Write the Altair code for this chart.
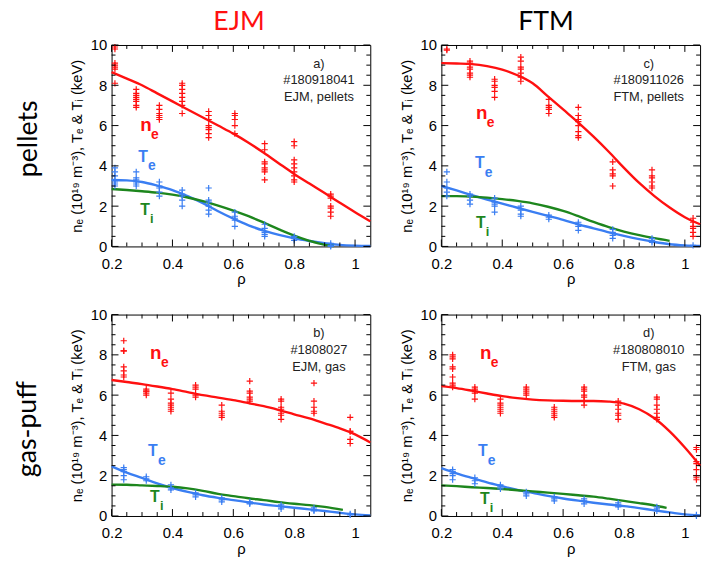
import altair as alt
import pandas as pd

# ---------------- data ----------------
FIT_RHO = [0.2, 0.25, 0.3, 0.35, 0.4, 0.45, 0.5, 0.55, 0.6, 0.65, 0.7, 0.75,
           0.8, 0.85, 0.9, 0.95, 1.0, 1.05]

# a) EJM, pellets
A_RHO = [0.211, 0.281, 0.357, 0.432, 0.519, 0.605, 0.703, 0.800, 0.920]
A_NE = [[9.9, 9.8, 9.1, 9.0, 8.9, 8.8, 8.1],
        [7.8, 7.6, 7.5, 7.4, 7.3, 7.2, 7.0, 6.9],
        [7.0, 6.8, 6.6, 6.5, 6.4, 6.3],
        [8.1, 8.0, 7.8, 7.6, 7.4, 7.2, 7.0, 6.6],
        [6.7, 6.5, 6.3, 6.0, 5.9, 5.8, 5.6, 5.4],
        [6.6, 6.5, 6.3, 6.0, 5.6],
        [5.1, 4.8, 4.2, 4.1, 3.9, 3.8, 3.7, 3.3],
        [5.2, 5.0, 4.3, 4.1, 3.9, 3.7, 3.5, 3.3, 3.2],
        [2.6, 2.5, 2.4, 2.0, 1.9, 1.7, 1.5]]
A_TE = [[3.9, 3.7, 3.5, 3.3, 3.2, 3.1, 3.0],
        [3.7, 3.4, 3.3, 3.2, 3.1, 3.0],
        [3.2, 3.0, 2.9, 2.7, 2.5],
        [2.8, 2.6, 2.5, 2.3, 2.0],
        [2.9, 2.3, 2.2, 2.0, 1.8, 1.6],
        [1.7, 1.5, 1.4, 1.3, 1.0],
        [1.1, 0.9, 0.7, 0.6, 0.5],
        [0.5, 0.4, 0.3],
        [0.15, 0.05, 0.0]]
A_NE_FIT = [8.65, 8.33, 8.0, 7.6, 7.2, 6.8, 6.4, 6.0, 5.6, 5.15, 4.65, 4.12,
            3.6, 3.12, 2.65, 2.17, 1.7, 1.25]
A_TE_FIT = [3.3, 3.28, 3.2, 3.02, 2.8, 2.5, 2.15, 1.75, 1.38, 1.05, 0.78, 0.57,
            0.4, 0.27, 0.16, 0.08, 0.04, 0.02]
A_TI_RHO = [0.2, 0.25, 0.3, 0.35, 0.4, 0.45, 0.5, 0.55, 0.6, 0.65, 0.7, 0.75,
            0.8, 0.85, 0.9, 0.93]
A_TI_FIT = [2.85, 2.8, 2.74, 2.67, 2.57, 2.43, 2.25, 2.03, 1.78, 1.5, 1.18, 0.85,
            0.54, 0.28, 0.08, 0.02]

# c) FTM, pellets
C_RHO = [0.218, 0.294, 0.375, 0.461, 0.553, 0.650, 0.763, 0.892, 1.027]
C_NE = [[9.8, 9.75],
        [9.2, 9.1, 8.9, 8.8, 8.6, 8.5, 8.4],
        [8.3, 8.2, 8.0, 7.9, 7.7, 7.4],
        [9.4, 9.2, 8.9, 8.8, 8.6, 8.4, 8.2],
        [7.3, 7.0, 6.9, 6.8, 6.6],
        [6.9, 6.5, 6.3, 6.2, 6.0, 5.7, 5.5, 5.4],
        [4.2, 3.8, 3.6, 3.5, 3.0],
        [3.8, 3.5, 3.4, 3.2, 3.0, 2.9],
        [1.4, 1.2, 1.0, 0.9, 0.7, 0.5]]
C_TE = [[3.7, 3.2, 2.9, 2.7, 2.5],
        [2.6, 2.5, 2.3, 2.1],
        [2.4, 2.2, 2.1, 2.0, 1.7],
        [2.0, 1.8, 1.6, 1.5],
        [1.55, 1.45, 1.35],
        [1.2, 1.1, 1.0, 0.8],
        [0.85, 0.7, 0.55, 0.4],
        [0.4, 0.3, 0.2],
        [0.05]]
C_NE_FIT = [9.1, 9.08, 9.05, 8.95, 8.78, 8.5, 8.1, 7.45, 6.8, 6.15, 5.45, 4.7,
            3.9, 3.15, 2.5, 1.93, 1.45, 1.1]
C_TE_FIT = [3.0, 2.78, 2.55, 2.33, 2.12, 1.92, 1.72, 1.52, 1.32, 1.1, 0.9, 0.7,
            0.52, 0.36, 0.22, 0.11, 0.05, 0.02]
C_TI_RHO = [0.2, 0.25, 0.3, 0.35, 0.4, 0.45, 0.5, 0.55, 0.6, 0.65, 0.7, 0.75,
            0.8, 0.85, 0.9, 0.95]
C_TI_FIT = [2.5, 2.5, 2.47, 2.42, 2.35, 2.26, 2.14, 1.97, 1.76, 1.5, 1.22, 0.96,
            0.74, 0.56, 0.41, 0.28]

# b) EJM, gas
B_RHO = [0.240, 0.314, 0.395, 0.476, 0.562, 0.654, 0.757, 0.865, 0.984]
B_NE = [[8.7, 8.2, 8.2, 7.4, 7.2, 7.0, 6.9],
        [6.3, 6.2, 6.2, 6.1, 6.0],
        [6.1, 5.8, 5.6, 5.5, 5.4, 5.3, 5.2],
        [6.5, 6.4, 6.3, 6.0, 5.9],
        [5.5, 5.2, 5.1, 5.0, 4.9],
        [6.7, 6.2, 6.1, 5.9, 5.8, 5.7],
        [5.8, 5.7, 5.4, 5.3, 5.1, 5.0, 4.8],
        [6.6, 5.7, 5.4, 5.2, 5.1],
        [4.9, 4.2, 4.2, 3.8, 3.6]]
B_TE = [[2.4, 2.3, 2.2, 2.0, 1.8],
        [1.95, 1.85, 1.75],
        [1.55, 1.4, 1.3],
        [1.15, 1.05, 0.95],
        [0.9, 0.8, 0.7],
        [0.7, 0.65, 0.6],
        [0.55, 0.45, 0.35],
        [0.4, 0.3, 0.25],
        [0.1, 0.05]]
B_NE_FIT = [6.75, 6.65, 6.55, 6.43, 6.3, 6.15, 6.0, 5.88, 5.75, 5.6, 5.45, 5.26,
            5.05, 4.85, 4.6, 4.35, 4.05, 3.65]
B_TE_FIT = [2.46, 2.15, 1.89, 1.62, 1.39, 1.2, 1.03, 0.9, 0.79, 0.68, 0.57, 0.49,
            0.41, 0.33, 0.25, 0.16, 0.08, 0.03]
B_TI_RHO = [0.2, 0.25, 0.3, 0.35, 0.4, 0.45, 0.5, 0.55, 0.6, 0.65, 0.7, 0.75,
            0.8, 0.85, 0.9, 0.96]
B_TI_FIT = [1.56, 1.55, 1.52, 1.49, 1.45, 1.37, 1.25, 1.1, 0.99, 0.88, 0.79, 0.69,
            0.61, 0.54, 0.45, 0.3]

# d) FTM, gas
D_RHO = [0.237, 0.310, 0.394, 0.479, 0.571, 0.669, 0.781, 0.908, 1.038]
D_NE = [[8.0, 7.9, 7.8, 7.4, 7.3, 6.9, 6.6, 6.5, 6.4],
        [6.4, 6.3, 6.2, 6.1, 5.8],
        [5.8, 5.6, 5.5, 5.4, 5.3, 5.2, 5.1],
        [6.4, 6.3, 6.2, 6.1, 6.0],
        [5.4, 5.3, 5.2, 5.1, 5.0, 4.9],
        [6.4, 6.3, 6.2, 6.0, 5.9, 5.7, 5.5],
        [5.7, 5.5, 5.3, 5.1, 5.0, 4.8],
        [5.9, 5.8, 5.5, 5.3, 5.1, 4.9, 4.8],
        [3.4, 3.3, 2.7, 2.6, 2.3, 2.0, 1.9, 1.8]]
D_TE = [[2.3, 2.2, 2.1, 2.0, 1.8],
        [1.9, 1.75, 1.6],
        [1.55, 1.45, 1.35],
        [1.2, 1.1, 1.0],
        [0.95, 0.85, 0.75],
        [0.85, 0.75, 0.6],
        [0.65, 0.55, 0.45],
        [0.45, 0.35, 0.25],
        [0.05, 0.0]]
D_NE_FIT = [6.45, 6.35, 6.22, 6.08, 5.95, 5.85, 5.78, 5.74, 5.72, 5.71, 5.71, 5.68,
            5.58, 5.3, 4.85, 4.2, 3.4, 2.5]
D_TE_FIT = [2.38, 2.12, 1.89, 1.67, 1.48, 1.3, 1.15, 1.0, 0.87, 0.76, 0.66, 0.57,
            0.49, 0.39, 0.28, 0.18, 0.08, 0.03]
D_TI_RHO = [0.2, 0.25, 0.3, 0.35, 0.4, 0.45, 0.5, 0.55, 0.6, 0.65, 0.7, 0.75,
            0.8, 0.85, 0.9, 0.94]
D_TI_FIT = [1.52, 1.48, 1.43, 1.39, 1.34, 1.28, 1.22, 1.16, 1.1, 1.03, 0.96, 0.86,
            0.75, 0.64, 0.52, 0.4]

NOTES = {
    "a": ["a)", "#180918041", "EJM, pellets"],
    "b": ["b)", "#1808027", "EJM, gas"],
    "c": ["c)", "#180911026", "FTM, pellets"],
    "d": ["d)", "#180808010", "FTM, gas"],
}
COL_TITLES = ["EJM", "FTM"]
ROW_TITLES = ["pellets", "gas-puff"]
X_LABELS = [0.2, 0.4, 0.6, 0.8, 1.0]
X_MINOR = [0.25, 0.3, 0.35, 0.45, 0.5, 0.55, 0.65, 0.7, 0.75, 0.85, 0.9, 0.95]
Y_LABELS = [0, 2, 4, 6, 8, 10]
Y_MINOR = [0.5, 1, 1.5, 2.5, 3, 3.5, 4.5, 5, 5.5, 6.5, 7, 7.5, 8.5, 9, 9.5]
Y_TITLE = "nₑ (10¹⁹ m⁻³), Tₑ & Tᵢ (keV)"
X_TITLE = "ρ"

# ---------------- style ----------------
W, H = 262, 204
RED, BLUE, GREEN = "#ff1010", "#3a7ef2", "#1d861d"
FONT = "Liberation Sans"
BIG_FONT = "Lato"
CROSS = "M-1,0L1,0M0,-1L0,1"
XS = alt.Scale(domain=[0.2, 1.05], nice=False, zero=False)
YS = alt.Scale(domain=[0, 10], nice=False, zero=False)
CS = alt.Scale(domain=["ne", "te", "ti"], range=[RED, BLUE, GREEN])
DUMMY = pd.DataFrame({"d": [0]})

XAXIS = alt.Axis(values=X_LABELS, format="~g", title=X_TITLE, ticks=False, tickSize=0,
                 domain=False, grid=False, labelFont=FONT, labelFontSize=15,
                 labelColor="black", labelPadding=10, labelFlush=False,
                 labelOverlap=False, titleFont=FONT, titleFontSize=15,
                 titleFontWeight="normal", titleColor="black", titlePadding=1)
YAXIS = alt.Axis(values=Y_LABELS, title=Y_TITLE, ticks=False, tickSize=0,
                 domain=False, grid=False, labelFont=FONT, labelFontSize=15,
                 labelColor="black", labelPadding=5, labelFlush=False,
                 labelOverlap=False, titleFont=FONT, titleFontSize=15,
                 titleFontWeight="normal", titleColor="black", titlePadding=6)


def txt(s, x, y, size, color="black", weight="normal", font=FONT,
        align="left", baseline="alphabetic", angle=0, line_height=None):
    kw = dict(text=s, fontSize=size, color=color, fontWeight=weight, font=font,
              align=align, baseline=baseline, angle=angle)
    if line_height:
        kw["lineHeight"] = line_height
    return alt.Chart(DUMMY).mark_text(**kw).encode(x=alt.value(x), y=alt.value(y))


def tick_layers():
    out = []
    for vals, L in [(X_LABELS, 7), (X_MINOR, 4)]:
        base = alt.Chart(pd.DataFrame({"rho": vals})).mark_rule(color="black", strokeWidth=1)
        xe = alt.X("rho:Q", scale=XS, axis=XAXIS)
        out.append(base.encode(x=xe, y=alt.value(H), y2=alt.value(H - L)))
        out.append(base.encode(x=xe, y=alt.value(0), y2=alt.value(L)))
    for vals, L in [(Y_LABELS, 7), (Y_MINOR, 4)]:
        base = alt.Chart(pd.DataFrame({"val": vals})).mark_rule(color="black", strokeWidth=1)
        ye = alt.Y("val:Q", scale=YS, axis=YAXIS)
        out.append(base.encode(y=ye, x=alt.value(0), x2=alt.value(L)))
        out.append(base.encode(y=ye, x=alt.value(W), x2=alt.value(W - L)))
    return out


def panel(rho, ne, te, ne_fit, te_fit, ti_rho, ti_fit, note, lab, extras):
    rows = []
    for r, vals in zip(rho, ne):
        rows += [{"rho": r, "val": v, "s": "ne"} for v in vals]
    for r, vals in zip(rho, te):
        rows += [{"rho": r, "val": v, "s": "te"} for v in vals]
    pts = pd.DataFrame(rows)
    fit = pd.DataFrame(
        [{"rho": r, "val": v, "s": "ne"} for r, v in zip(FIT_RHO, ne_fit)]
        + [{"rho": r, "val": v, "s": "te"} for r, v in zip(FIT_RHO, te_fit)]
        + [{"rho": r, "val": v, "s": "ti"} for r, v in zip(ti_rho, ti_fit)]
    )
    lines = alt.Chart(fit).mark_line(strokeWidth=2.4, interpolate="monotone").encode(
        x=alt.X("rho:Q", scale=XS, axis=XAXIS),
        y=alt.Y("val:Q", scale=YS, axis=YAXIS),
        color=alt.Color("s:N", scale=CS, legend=None),
        detail="s:N",
    )
    points = alt.Chart(pts).mark_point(shape=CROSS, filled=False, size=40,
                                       strokeWidth=1.2, opacity=1).encode(
        x=alt.X("rho:Q", scale=XS, axis=XAXIS),
        y=alt.Y("val:Q", scale=YS, axis=YAXIS),
        color=alt.Color("s:N", scale=CS, legend=None),
    )
    layers = [lines, points] + tick_layers()
    layers.append(txt(note, 210, 23, 13, color="#222222", align="center", line_height=17))
    (nx, ny), (tex, tey), (tix, tiy) = lab
    layers += [
        txt("n", nx, ny, 19, RED, "bold"),
        txt("e", nx + 11, ny + 8, 14, RED, "bold"),
        txt("T", tex, tey, 16, BLUE, "bold"),
        txt("e", tex + 10, tey + 9, 14, BLUE, "bold"),
        txt("T", tix, tiy, 16, GREEN, "bold"),
        txt("i", tix + 10, tiy + 8, 13, GREEN, "bold"),
    ]
    layers += extras
    return alt.layer(*layers).properties(width=W, height=H)


pa = panel(A_RHO, A_NE, A_TE, A_NE_FIT, A_TE_FIT, A_TI_RHO, A_TI_FIT, NOTES["a"],
           [(29, 87), (27, 118), (29, 172)],
           [txt(COL_TITLES[0], 129, -15, 27, RED, font=BIG_FONT, align="center"),
            txt(ROW_TITLES[0], -84, 95, 27, "black", font=BIG_FONT, align="center",
                baseline="middle", angle=270)])
pc = panel(C_RHO, C_NE, C_TE, C_NE_FIT, C_TE_FIT, C_TI_RHO, C_TI_FIT, NOTES["c"],
           [(35, 75), (34, 125), (35, 185)],
           [txt(COL_TITLES[1], 106, -15, 27, "black", font=BIG_FONT, align="center")])
pb = panel(B_RHO, B_NE, B_TE, B_NE_FIT, B_TE_FIT, B_TI_RHO, B_TI_FIT, NOTES["b"],
           [(39, 45), (37, 143), (39, 190)],
           [txt(ROW_TITLES[1], -85, 116, 27, "black", font=BIG_FONT, align="center",
                baseline="middle", angle=270)])
pd_ = panel(D_RHO, D_NE, D_TE, D_NE_FIT, D_TE_FIT, D_TI_RHO, D_TI_FIT, NOTES["d"],
            [(39, 45), (37, 143), (39, 192)], [])

chart = alt.concat(pa, pc, pb, pd_, columns=2, spacing={"row": 19, "column": 22},
                   align="each").properties(
    padding={"left": 13, "top": 4, "right": 0, "bottom": 0},
    background="white",
).configure_view(stroke="black", strokeWidth=1)

chart.save("out.html", embed_options={"renderer": "svg", "actions": False})
